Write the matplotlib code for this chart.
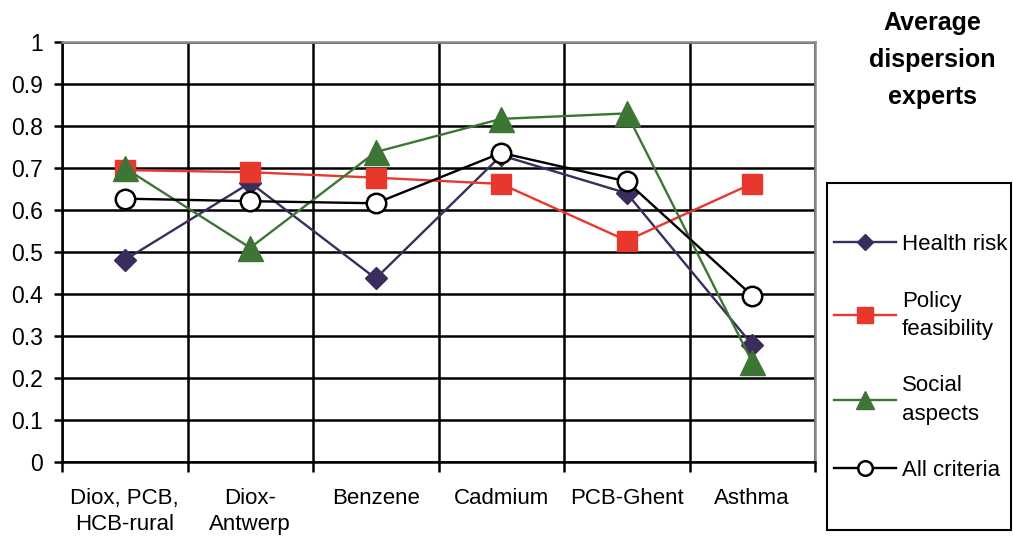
import numpy as np
import matplotlib.pyplot as plt
from matplotlib.patches import Rectangle

plt.rcParams['font.family'] = ['Liberation Sans', 'DejaVu Sans']

categories = ['Diox, PCB,\nHCB-rural', 'Diox-\nAntwerp', 'Benzene', 'Cadmium', 'PCB-Ghent', 'Asthma']
health_risk = [0.481, 0.665, 0.437, 0.730, 0.640, 0.279]
policy_feasibility = [0.695, 0.690, 0.677, 0.662, 0.527, 0.663]
social_aspects = [0.700, 0.510, 0.738, 0.817, 0.830, 0.238]
all_criteria = [0.627, 0.621, 0.616, 0.736, 0.668, 0.396]

W, H = 1013, 536
fig = plt.figure(figsize=(W / 100, H / 100), dpi=100)
ax = fig.add_axes([62 / W, 1 - 462 / H, (815 - 62) / W, 420 / H])

x = np.arange(len(categories))
ax.plot(x, health_risk, color='#3a2d5c', lw=1.7, marker='D', ms=11,
        label='Health risk', zorder=3)
ax.plot(x, policy_feasibility, color='#e8382d', lw=1.7, marker='s', ms=15,
        label='Policy\nfeasibility', zorder=3)
ax.plot(x, social_aspects, color='#3d7534', lw=1.7, marker='^', ms=18,
        label='Social\naspects', zorder=3)
ax.plot(x, all_criteria, color='black', lw=1.7, marker='o', ms=14,
        mfc='white', mec='black', mew=1.8, label='All criteria', zorder=4)

ax.set_xlim(-0.5, len(categories) - 0.5)
ax.set_ylim(0, 1)
ax.set_yticks(np.arange(0, 1.01, 0.1))
ax.set_yticklabels(['0'] + ['%.1f' % v for v in np.arange(0.1, 0.95, 0.1)] + ['1'])
ax.set_xticks(x)
ax.set_xticklabels(categories, linespacing=1.3)
ax.set_xticks(np.arange(-0.5, len(categories), 1), minor=True)
ax.tick_params(axis='x', which='major', length=0, pad=19, labelsize=16)
ax.tick_params(axis='x', which='minor', length=7, width=1.8, direction='out')
ax.tick_params(axis='y', length=6, width=1.8, direction='out', labelsize=16.5, pad=8)

ax.grid(axis='y', which='major', color='black', lw=1.8)
ax.grid(axis='x', which='minor', color='black', lw=1.8)
ax.set_axisbelow(True)

for side in ['left', 'bottom']:
    ax.spines[side].set_linewidth(1.8)
    ax.spines[side].set_color('black')
for side in ['top', 'right']:
    ax.spines[side].set_linewidth(1.8)
    ax.spines[side].set_color('#8a8a8a')

fig.text(932 / W, 1 - 60 / H, 'Average\ndispersion\nexperts', ha='center', va='center',
         fontsize=18, fontweight='bold', linespacing=1.7)

# legend frame drawn separately so the padding can differ vertically
fig.patches.append(Rectangle((827 / W, 1 - 530 / H), (1011 - 827) / W, (530 - 183) / H,
                             transform=fig.transFigure, fill=False,
                             edgecolor='black', lw=1.5))
leg = fig.legend(loc='upper left', bbox_to_anchor=(834 / W, 1 - 234 / H),
                 fontsize=16, frameon=False, labelspacing=1.6, handlelength=2.8,
                 handletextpad=0.25, borderpad=0, borderaxespad=0, markerscale=0.75)
for t in leg.get_texts():
    t.set_linespacing(1.45)

fig.savefig('out.png', dpi=100)
